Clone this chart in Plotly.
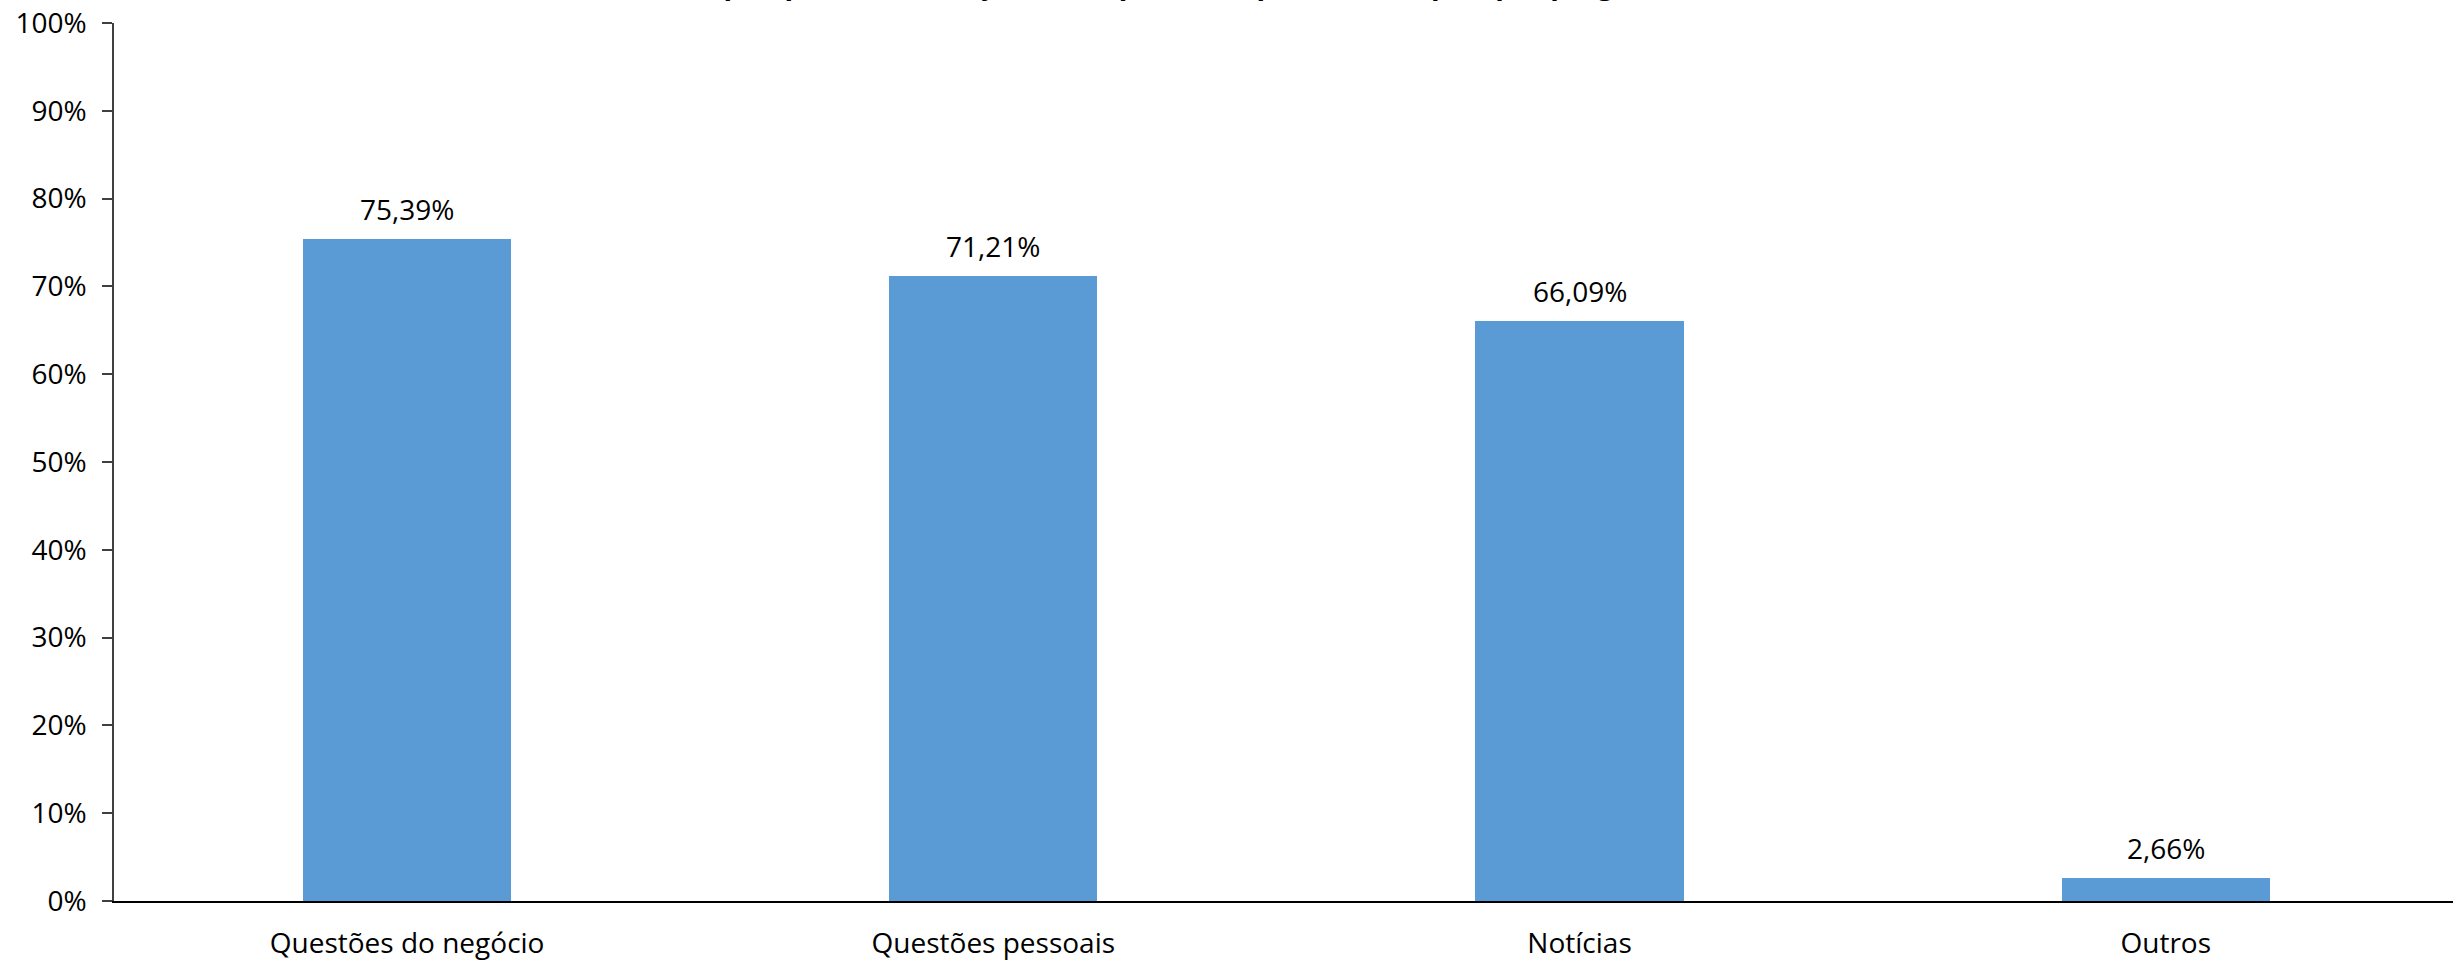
import plotly.graph_objects as go

categories = ["Questões do negócio", "Questões pessoais", "Notícias", "Outros"]
values = [75.39, 71.21, 66.09, 2.66]
value_labels = ["75,39%", "71,21%", "66,09%", "2,66%"]
y_tickvals = [0, 10, 20, 30, 40, 50, 60, 70, 80, 90, 100]
y_ticktext = ["0%", "10%", "20%", "30%", "40%", "50%", "60%", "70%", "80%", "90%", "100%"]
title_text = "Finalidade de uso, na perspetiva da direção da empresa (respostas múltiplas por pergunta)"

FONT = "Open Sans"

fig = go.Figure()
fig.add_trace(go.Bar(
    x=categories, y=values,
    marker=dict(color="#5B9BD5", line=dict(width=0)),
    width=0.355,
    hoverinfo="skip",
))

for c, v, t in zip(categories, values, value_labels):
    fig.add_annotation(x=c, y=v, text=t, showarrow=False, yanchor="middle",
                       yshift=30, font=dict(family=FONT, size=28, color="#000000"))

# title: only its lower edge is visible at the top of the canvas (as in the reference)
fig.add_annotation(xref="paper", yref="paper", x=(1690 - 114) / (2453 - 114), y=1,
                   xanchor="right", yanchor="bottom", yshift=19, showarrow=False,
                   text="<b>" + title_text + "</b>",
                   font=dict(family=FONT, size=28, color="#000000"))

fig.update_layout(
    width=2453, height=960,
    paper_bgcolor="white", plot_bgcolor="white",
    margin=dict(l=114, r=0, t=23, b=59, pad=0, autoexpand=False),
    showlegend=False,
    bargap=0,
    xaxis=dict(
        range=[-0.5, 3.49], showgrid=False, zeroline=False, automargin=False,
        showline=True, linecolor="#000000", linewidth=2,
        ticks="", ticklabelstandoff=16,
        tickfont=dict(family=FONT, size=28, color="#000000"),
    ),
    yaxis=dict(
        range=[0, 100], tickvals=y_tickvals, ticktext=y_ticktext,
        showgrid=False, zeroline=False, automargin=False,
        showline=True, linecolor="#404040", linewidth=1.5,
        ticks="outside", ticklen=10, tickcolor="#404040", tickwidth=1.5,
        ticklabelstandoff=10,
        tickfont=dict(family=FONT, size=28, color="#000000"),
    ),
)

fig.write_html("out.html", config={"displayModeBar": False})

# remove the default page margin so the figure sits at the window's top-left corner
with open("out.html", encoding="utf-8") as f:
    html = f.read()
html = html.replace("<body>", '<body style="margin:0;overflow:hidden">', 1)
with open("out.html", "w", encoding="utf-8") as f:
    f.write(html)
